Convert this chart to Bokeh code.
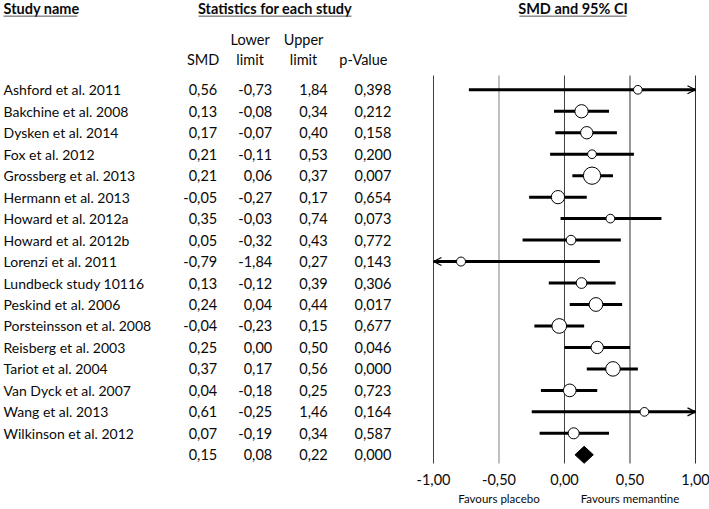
from bokeh.plotting import figure
from bokeh.models import Range1d, ColumnDataSource, Arrow, OpenHead
from bokeh.core.properties import value
from bokeh.embed import file_html
from bokeh.resources import INLINE

# ---------------- data ----------------
studies = ["Ashford  et al. 2011", "Bakchine et al. 2008", "Dysken et al. 2014",
           "Fox et al. 2012", "Grossberg et al. 2013", "Hermann et al. 2013",
           "Howard et al. 2012a", "Howard et al. 2012b", "Lorenzi et al. 2011",
           "Lundbeck study 10116", "Peskind et al. 2006", "Porsteinsson et al. 2008",
           "Reisberg et al. 2003", "Tariot et al. 2004", "Van Dyck et al. 2007",
           "Wang et al. 2013", "Wilkinson et al. 2012"]
smd = [0.56, 0.13, 0.17, 0.21, 0.21, -0.05, 0.35, 0.05, -0.79, 0.13, 0.24,
       -0.04, 0.25, 0.37, 0.04, 0.61, 0.07]
lower = [-0.73, -0.08, -0.07, -0.11, 0.06, -0.27, -0.03, -0.32, -1.84, -0.12,
         0.04, -0.23, 0.00, 0.17, -0.18, -0.25, -0.19]
upper = [1.84, 0.34, 0.40, 0.53, 0.37, 0.17, 0.74, 0.43, 0.27, 0.39, 0.44,
         0.15, 0.50, 0.56, 0.25, 1.46, 0.34]
pvals = [0.398, 0.212, 0.158, 0.200, 0.007, 0.654, 0.073, 0.772, 0.143, 0.306,
         0.017, 0.677, 0.046, 0.000, 0.723, 0.164, 0.587]
weights = [3.1, 7.2, 6.2, 3.1, 12.2, 7.2, 3.1, 3.8, 3.3, 4.7, 7.7, 8.8, 6.2,
           8.6, 6.6, 3.1, 5.0]  # relative weight (%)
summary_smd = 0.15
summary_lower = 0.08
summary_upper = 0.22
summary_p = 0.000
ticks = [-1.0, -0.5, 0.0, 0.5, 1.0]
tick_labels = ["-1,00", "-0,50", "0,00", "0,50", "1,00"]
favours = ["Favours placebo", "Favours memantine"]
favours_x = [-0.5, 0.5]

# ---------------- helpers ----------------
def fmt2(v):
    return f"{v:.2f}".replace(".", ",")

def fmt3(v):
    return f"{v:.3f}".replace(".", ",")

FONT = value("Lato")
FS = "14.5px"
FS_NAME = "14px"
TXT = "#0a0a0a"
XMIN, XMAX = -1.0, 1.0

n = len(studies)
rows = list(range(n))
sum_row = n

# x-positions of table columns (in SMD axis units, left of the plot area)
X_NAME = -4.282
X_SMD = -2.651
X_LOW = -2.231
X_UP = -1.807
X_P = -1.321

p = figure(width=709, height=509,
           x_range=Range1d(-4.3053, 1.1069), y_range=Range1d(19.548, -4.159),
           output_backend="svg", toolbar_location=None, min_border=0)
p.axis.visible = False
p.grid.visible = False
p.outline_line_color = None
p.background_fill_color = "white"
p.border_fill_color = "white"

# ---------------- headers ----------------
hdr_y = -3.80
ul_y = -3.43
p.text(x=[X_NAME], y=[hdr_y], text=["Study name"], text_align="left",
       text_baseline="middle", text_font=FONT, text_font_size=FS,
       text_font_style="bold", text_color=TXT)
p.text(x=[-2.210], y=[hdr_y], text=["Statistics for each study"],
       text_align="center", text_baseline="middle", text_font=FONT,
       text_font_size=FS, text_font_style="bold", text_color=TXT)
p.text(x=[0.065], y=[hdr_y], text=["SMD and 95% CI"], text_align="center",
       text_baseline="middle", text_font=FONT, text_font_size=FS,
       text_font_style="bold", text_color=TXT)
p.segment(x0=[X_NAME, -2.794, -0.344], y0=[ul_y] * 3,
          x1=[-3.718, -1.626, 0.473], y1=[ul_y] * 3,
          line_color="#555555", line_width=1)

sub1_y = -2.33
sub2_y = -1.397
p.text(x=[-2.400, -1.992], y=[sub1_y] * 2, text=["Lower", "Upper"],
       text_align="center", text_baseline="middle", text_font=FONT,
       text_font_size=FS, text_color=TXT)
p.text(x=[-2.759, -2.400, -1.992, -1.535], y=[sub2_y] * 4,
       text=["SMD", "limit", "limit", "p-Value"], text_align="center",
       text_baseline="middle", text_font=FONT, text_font_size=FS, text_color=TXT)

# ---------------- table ----------------
p.text(x=[X_NAME] * n, y=rows, text=studies, text_align="left",
       text_baseline="middle", text_font=FONT, text_font_size=FS_NAME,
       text_color=TXT)
all_rows = rows + [sum_row]
cols = [
    (X_SMD, [fmt2(v) for v in smd + [summary_smd]]),
    (X_LOW, [fmt2(v) for v in lower + [summary_lower]]),
    (X_UP, [fmt2(v) for v in upper + [summary_upper]]),
    (X_P, [fmt3(v) for v in pvals + [summary_p]]),
]
for cx, labels in cols:
    p.text(x=[cx] * len(all_rows), y=all_rows, text=labels, text_align="right",
           text_baseline="middle", text_font=FONT, text_font_size=FS,
           text_color=TXT)

# ---------------- forest plot ----------------
line_colors = ["#404040", "#808080", "#404040", "#303030", "#303030"]
p.segment(x0=ticks, y0=[-0.666] * len(ticks), x1=ticks, y1=[17.405] * len(ticks),
          line_color=line_colors, line_width=1)

lo_c = [max(v, XMIN) for v in lower]
up_c = [min(v, XMAX) for v in upper]
p.segment(x0=lo_c, y0=rows, x1=up_c, y1=rows, line_color="black", line_width=3)

# arrows for clipped intervals
ax0, ax1, ay = [], [], []
for i in range(n):
    if upper[i] > XMAX:
        ax0.append(smd[i]); ax1.append(XMAX); ay.append(i)
    if lower[i] < XMIN:
        ax0.append(smd[i]); ax1.append(XMIN); ay.append(i)
asrc = ColumnDataSource(dict(x0=ax0, x1=ax1, y=ay))
p.add_layout(Arrow(end=OpenHead(size=8, line_width=1.2, line_color="black"),
                   x_start="x0", y_start="y", x_end="x1", y_end="y",
                   source=asrc, line_width=0.1, line_alpha=0.0))

sizes = [4.95 * (w ** 0.5) for w in weights]
p.scatter(x=smd, y=rows, size=sizes, marker="circle", fill_color="white",
          line_color="black", line_width=1)

dh = 0.396
p.patch(x=[summary_lower, summary_smd, summary_upper, summary_smd],
        y=[sum_row, sum_row - dh, sum_row, sum_row + dh],
        fill_color="black", line_color="black")

# tick labels and footer
p.text(x=ticks, y=[18.16] * len(ticks), text=tick_labels, text_align="center",
       text_baseline="middle", text_font=FONT, text_font_size=FS, text_color=TXT)
p.text(x=favours_x, y=[19.02] * 2, text=favours, text_align="center",
       text_baseline="middle", text_font=FONT, text_font_size="11.5px",
       text_color=TXT)

open("out.html", "w").write(file_html(p, INLINE))
